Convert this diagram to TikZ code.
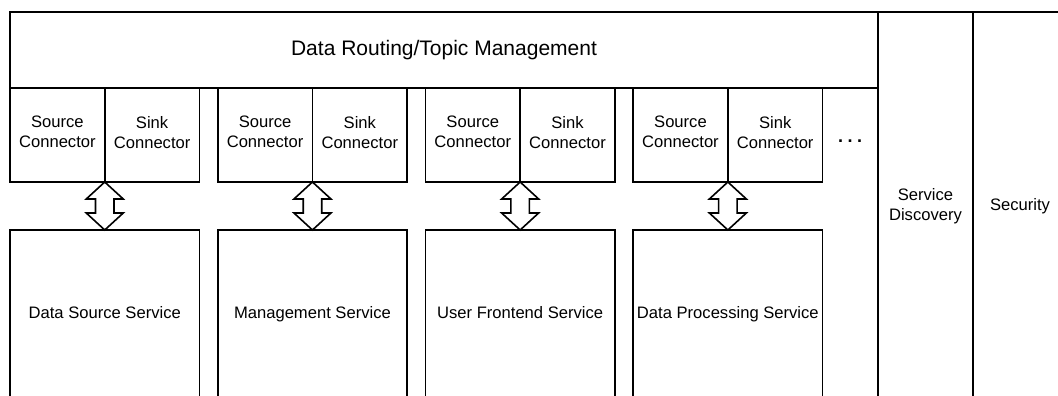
\documentclass[tikz,border=0pt]{standalone}
\usepackage{fontspec}
\setmainfont{Liberation Sans}
\usetikzlibrary{positioning}

\begin{document}
\begin{tikzpicture}[x=1pt, y=-1pt, every node/.style={font=\fontsize{16.6}{20}\selectfont},
  box/.style={rectangle, draw, line width=1.6pt, outer sep=0pt, inner sep=0pt, align=center},
  conn/.style={box, minimum width=94.75pt, minimum height=94pt, execute at begin node=\strut, execute at end node=\strut},
  svc/.style={box, minimum width=189.5pt, minimum height=168pt, execute at begin node=\strut},
  bigarrow/.style={draw, fill=white, line width=1.6pt, line join=miter}]
\clip (0,0) rectangle (1058,396);
\node[box, minimum width=868pt, minimum height=76pt, anchor=north west, font=\fontsize{21}{24}\selectfont] (routing) at (10,12) {Data Routing/Topic Management};
\node[box, minimum width=95pt, minimum height=388pt, anchor=north west] (discovery) at (routing.north east) {\strut Service\\Discovery\strut};
\node[box, minimum width=94pt, minimum height=388pt, anchor=north west] (security) at (discovery.north east) {\strut Security};

% connectors
\node[conn, anchor=north west] (src1) at (routing.south west) {Source\\Connector};
\node[conn, right=0pt of src1] (sink1) {Sink\\Connector};
\node[conn, right=18.2pt of sink1] (src2) {Source\\Connector};
\node[conn, right=0pt of src2] (sink2) {Sink\\Connector};
\node[conn, right=18.2pt of sink2] (src3) {Source\\Connector};
\node[conn, right=0pt of src3] (sink3) {Sink\\Connector};
\node[conn, right=18.2pt of sink3] (src4) {Source\\Connector};
\node[conn, right=0pt of src4] (sink4) {Sink\\Connector};
\node[font=\bfseries\fontsize{18}{20}\selectfont] (more) at (850,141) {.\hspace{4.5pt}.\hspace{4.5pt}.};

% services
\node[svc, below=48pt of src1.south east] (svc1) {Data Source Service};
\node[svc, below=48pt of src2.south east] (svc2) {Management Service};
\node[svc, below=48pt of src3.south east] (svc3) {User Frontend Service};
\node[svc, below=48pt of src4.south east] (svc4) {Data Processing Service};

\foreach \i in {1,...,4}
  \draw[bigarrow] (sink\i.south west) -- ++(18.5,17) -- ++(-9.25,0) -- ++(0,14) -- ++(9.25,0) -- (svc\i.north)
    -- ++(-18.5,-17) -- ++(9.25,0) -- ++(0,-14) -- ++(-9.25,0) -- cycle;
\end{tikzpicture}
\end{document}
